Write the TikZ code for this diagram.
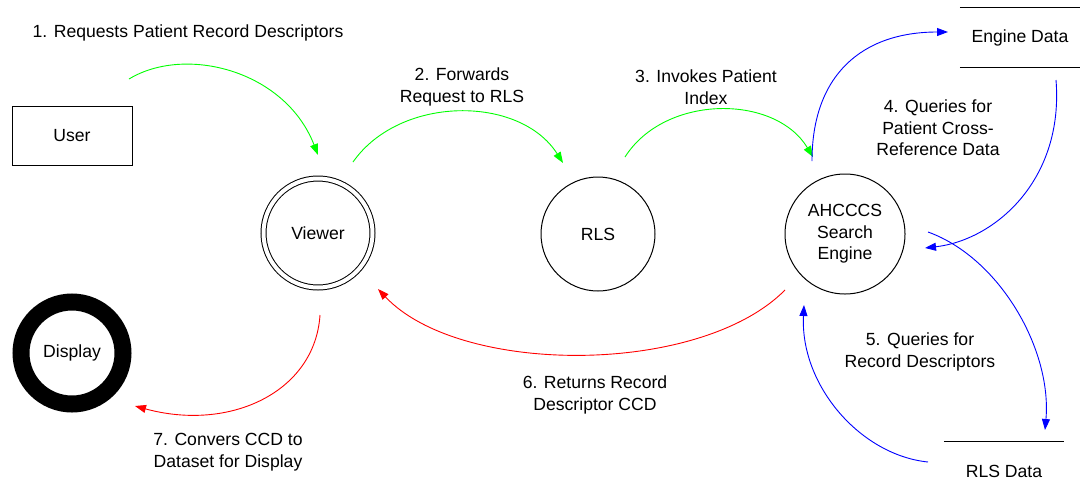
\documentclass[tikz,border=0pt]{standalone}
\usepackage{fontspec}
\setmainfont{Liberation Sans}
\usetikzlibrary{arrows.meta}

\begin{document}
\begin{tikzpicture}[x=1pt,y=-1pt, font=\fontsize{17.6}{21.5}\selectfont, proc/.style={circle,draw,line width=1pt,inner sep=0pt,align=center}, store/.style={minimum width=120pt,minimum height=59pt}, lbl/.style={align=center}, flow/.style={-{Triangle[length=11pt,width=8pt]},line width=0.9pt}, req/.style={flow,green}, qry/.style={flow,blue}, ret/.style={flow,red}]
\useasboundingbox (0,0) rectangle (1081,499);
% external entities, processes and data stores
\node[draw,line width=1pt,minimum width=120pt,minimum height=59pt] (user) at (72,135.5) {User};
\node[proc,minimum size=109pt,double,double distance=4pt] (viewer) at (318,233) {Viewer};
\node[proc,minimum size=114pt] (rls) at (598,234) {RLS};
\node[proc,minimum size=120pt] (engine) at (845,234) {AHCCCS\\Search\\Engine};
\node[circle,draw,line width=17pt,minimum size=102pt] (display) at (72,353) {Display};
\node[store] (engdata) at (1020,37.5) {Engine Data};
\draw[line width=1pt] (engdata.north west)--(engdata.north east) (engdata.south west)--(engdata.south east);
\node[store] (rlsdata) at (1004,471.5) {RLS Data};
\draw[line width=1pt] (rlsdata.north west)--(rlsdata.north east);
% flow end points
\coordinate (r1a) at (129,79); \coordinate (r1b) at (318,155);
\coordinate (r2a) at (353,162); \coordinate (r2b) at (563,163);
\coordinate (r3a) at (625,157); \coordinate (r3b) at (813,157);
\coordinate (q4a) at (812,161); \coordinate (q4b) at (948,32);
\coordinate (q4c) at (1056,80); \coordinate (q4d) at (925,248);
\coordinate (q5a) at (928,232); \coordinate (q5b) at (1045,430);
\coordinate (q5c) at (928,462); \coordinate (q5d) at (804,305);
\coordinate (t6a) at (785,290); \coordinate (t6b) at (378,289);
\coordinate (t7a) at (320,315); \coordinate (t7b) at (135,406);
% flows
\draw[req] (r1a) .. controls (185,45) and (285,70) .. (r1b);
\draw[req] (r2a) .. controls (400,95) and (520,95) .. (r2b);
\draw[req] (r3a) .. controls (665,94) and (775,94) .. (r3b);
\draw[qry] (q4a) .. controls (812,75) and (862,32) .. (q4b);
\draw[qry] (q4c) .. controls (1064,180) and (995,240) .. (q4d);
\draw[qry] (q5a) .. controls (1000,258) and (1052,350) .. (q5b);
\draw[qry] (q5c) .. controls (860,455) and (800,385) .. (q5d);
\draw[ret] (t6a) .. controls (700,376) and (460,376) .. (t6b);
\draw[ret] (t7a) .. controls (315,392) and (230,432) .. (t7b);
% flow labels
\node[lbl] (l1) at (188,33) {1. Requests Patient Record Descriptors};
\node[lbl] (l2) at (462,87) {2. Forwards\\Request to RLS};
\node[lbl] (l3) at (706,87) {3. Invokes Patient\\Index};
\node[lbl] (l4) at (938,128) {4. Queries for\\Patient Cross-\\Reference Data};
\node[lbl] (l5) at (920,352) {5. Queries for\\Record Descriptors};
\node[lbl] (l6) at (595,395) {6. Returns Record\\Descriptor CCD};
\node[lbl] (l7) at (228,452) {7. Convers CCD to\\Dataset for Display};
\end{tikzpicture}
\end{document}
